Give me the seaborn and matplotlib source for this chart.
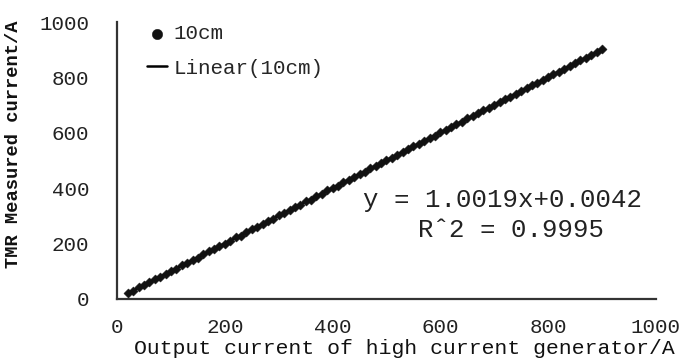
import matplotlib
matplotlib.use("Agg")
import matplotlib.pyplot as plt
import seaborn as sns
import pandas as pd
import numpy as np

output_current = [20, 30, 40, 50, 60, 70, 80, 90, 100, 110, 120, 130, 140, 150, 160, 170, 180, 190,
                  200, 210, 220, 230, 240, 250, 260, 270, 280, 290, 300, 310, 320, 330, 340, 350,
                  360, 370, 380, 390, 400, 410, 420, 430, 440, 450, 460, 470, 480, 490, 500, 510,
                  520, 530, 540, 550, 560, 570, 580, 590, 600, 610, 620, 630, 640, 650, 660, 670,
                  680, 690, 700, 710, 720, 730, 740, 750, 760, 770, 780, 790, 800, 810, 820, 830,
                  840, 850, 860, 870, 880, 890, 900]
measured_current = [21, 29, 42, 49, 61, 72, 79, 91, 101, 109, 122, 129, 142, 149, 161, 172, 179, 192,
                    199, 211, 222, 229, 241, 252, 259, 271, 282, 289, 302, 309, 321, 332, 339, 352,
                    359, 372, 380, 392, 401, 409, 422, 430, 441, 452, 459, 472, 480, 491, 502, 510,
                    521, 532, 540, 552, 560, 571, 582, 590, 602, 610, 621, 632, 640, 652, 660, 672,
                    681, 690, 702, 710, 722, 731, 740, 752, 760, 772, 781, 790, 802, 811, 821, 832,
                    841, 851, 862, 871, 881, 892, 901]
series_label = "10cm"
fit_label = "Linear(10cm)"
eq_text = "y = 1.0019x+0.0042"
r2_text = "R\u02c62 = 0.9995"
x_ticks = [0, 200, 400, 600, 800, 1000]
y_ticks = [0, 200, 400, 600, 800, 1000]
x_label = "Output current of high current generator/A"
y_label = "TMR Measured current/A"

df = pd.DataFrame({"x": output_current, "y": measured_current})

sns.set_style("white")
plt.rcParams["font.family"] = ["Liberation Mono", "DejaVu Sans Mono"]

fig = plt.figure(figsize=(6.81, 3.58), dpi=100)
ax = fig.add_axes([0.172, 0.165, 0.791, 0.7735])

sns.scatterplot(data=df, x="x", y="y", ax=ax, marker="D", s=22, color="#111111",
                edgecolor="#111111", linewidth=0.3, label=series_label, zorder=3)
sns.regplot(data=df, x="x", y="y", ax=ax, scatter=False, ci=None, truncate=True,
            line_kws={"color": "#000000", "lw": 1.8, "label": fit_label}, label=fit_label)

ax.set_xlim(0, 1000)
ax.set_ylim(0, 1000)
ax.set_xticks(x_ticks)
ax.set_yticks(y_ticks)
ax.set_xticklabels([str(t) for t in x_ticks], fontsize=15, color="#222222")
ax.set_yticklabels([str(t) for t in y_ticks], fontsize=15, color="#222222")
ax.tick_params(axis="x", direction="in", length=6, width=1.3, pad=14, color="#333333")
ax.tick_params(axis="y", direction="in", length=7, width=1.3, pad=20, color="#333333")

for side in ["top", "right"]:
    ax.spines[side].set_visible(False)
for side in ["left", "bottom"]:
    ax.spines[side].set_linewidth(1.6)
    ax.spines[side].set_color("#333333")

ax.set_xlabel(x_label, fontsize=15.4, color="#111111")
ax.xaxis.set_label_coords(0.534, -0.145)
ax.set_ylabel(y_label, fontsize=13.5, fontweight="bold", color="#111111")
ax.yaxis.set_label_coords(-0.176, 0.56)

ax.text(716, 357, eq_text, ha="center", va="center", fontsize=18.5, color="#222222")
ax.text(731, 249, r2_text, ha="center", va="center", fontsize=18.5, color="#222222")

handles, labels = ax.get_legend_handles_labels()
leg = ax.legend(handles, labels, loc="upper left", bbox_to_anchor=(0.02, 1.06), frameon=False,
                fontsize=15, handlelength=1.0, handletextpad=0.3, labelspacing=0.75,
                markerscale=0.8)
try:
    leg.legend_handles[0].set_paths([matplotlib.markers.MarkerStyle("o").get_path()])
except Exception:
    pass

fig.savefig("out.png", dpi=100, facecolor="white")
